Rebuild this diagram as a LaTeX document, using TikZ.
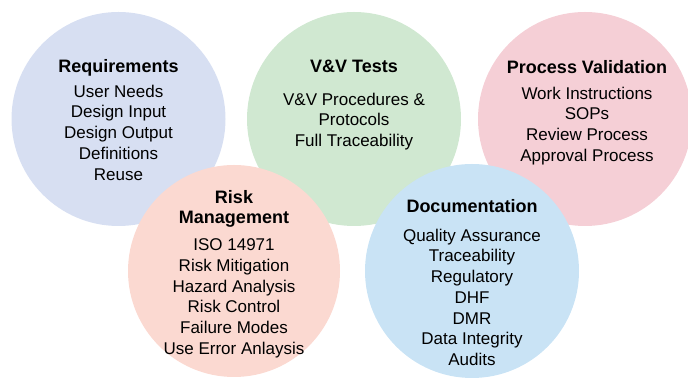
\documentclass[tikz,border=0pt]{standalone}
\usepackage{fontspec}
\setmainfont{Liberation Sans}
\usetikzlibrary{positioning}
\definecolor{reqblue}{HTML}{D7DFF2}
\definecolor{vvgreen}{HTML}{D0E8D1}
\definecolor{pvpink}{HTML}{F5CFD6}
\definecolor{risksalmon}{HTML}{FBD9D1}
\definecolor{docblue}{HTML}{C9E3F5}
\tikzset{
  bubble/.style = {circle, inner sep=0pt, minimum size=214pt},
  heading/.style = {inner sep=0pt, align=center, font=\fontsize{18}{20}\selectfont\bfseries},
  items/.style = {inner sep=0pt, align=center, anchor=north, font=\fontsize{17}{20.7}\selectfont}
}

\begin{document}
\begin{tikzpicture}[x=1pt, y=1pt]
\useasboundingbox (0,0) rectangle (688,379);
% circles
\node [bubble, fill=reqblue] (req) at (118.5,260) {};
\node [bubble, fill=vvgreen] (vv) at (354,260) {};
\node [bubble, fill=pvpink] (pv) at (585,260) {};
\node [bubble, fill=risksalmon, minimum size=212pt] (risk) at (234,108) {};
\node [bubble, fill=docblue] (doc) at (472,108) {};
% texts
\node [heading, anchor=base] (reqtitle) at (118.5,306) {Requirements};
\node [items] (reqlist) at (118.5,294.3) {User Needs\\Design Input\\Design Output\\Definitions\\Reuse};
\node [heading, anchor=base] (vvtitle) at (354,306) {V\&V Tests};
\node [items] (vvlist) at (354,286.3) {V\&V Procedures \&\\Protocols\\Full Traceability};
\node [heading, anchor=base] (pvtitle) at (587,305) {Process Validation};
\node [items] (pvlist) at (587,292.3) {Work Instructions\\SOPs\\Review Process\\Approval Process};
\node [heading, anchor=north] (risktitle) at (234,188.3) {Risk\\Management};
\node [items] (risklist) at (234,140.3) {ISO 14971\\Risk Mitigation\\Hazard Analysis\\Risk Control\\Failure Modes\\Use Error Anlaysis};
\node [heading, anchor=base] (doctitle) at (472,166) {Documentation};
\node [items] (doclist) at (472,150.3) {Quality Assurance\\Traceability\\Regulatory\\DHF\\DMR\\Data Integrity\\Audits};
\end{tikzpicture}
\end{document}
